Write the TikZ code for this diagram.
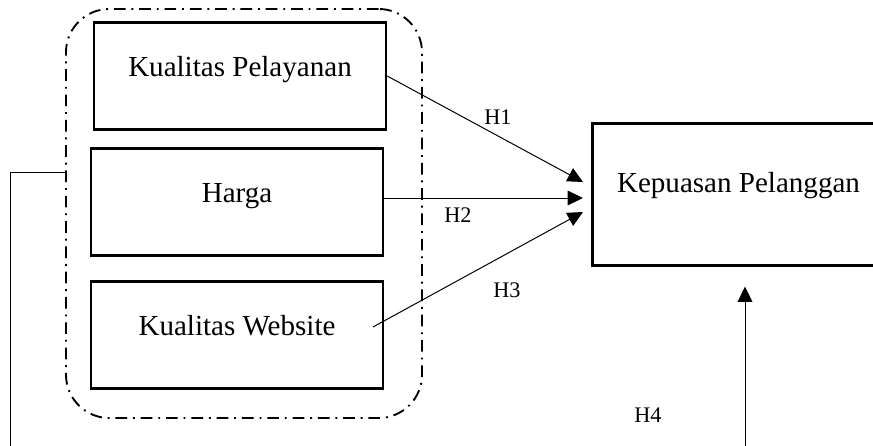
\documentclass[tikz,border=0pt]{standalone}
\usepackage{fontspec}
\setmainfont{Liberation Serif}
\usetikzlibrary{arrows.meta, positioning, calc}

\begin{document}
\begin{tikzpicture}[
    x=0.03cm, y=-0.03cm,
    >={Triangle[length=0.46cm, width=0.44cm]},
    varbox/.style={draw, line width=2pt, inner sep=0pt, anchor=base,
      minimum width=8.76cm, text height=1.6cm, text depth=1.6cm,
      font=\fontsize{24.8}{30}\selectfont},
    grpbox/.style={draw, line width=1.6pt, rounded corners=1.3cm,
      dash pattern=on 10pt off 5pt on 1.6pt off 5pt,
      minimum width=10.68cm, minimum height=12.27cm},
    hyp/.style={->, line width=0.85pt},
    link/.style={line width=0.85pt},
    hlabel/.style={font=\fontsize{19}{22}\selectfont},
  ]

  % ===== Frame =====
  \clip (0,0) rectangle (873,445);

  % ===== Independent variables =====
  \node[grpbox] (grp) at (244,213.5) {};
  \node[varbox] (kp) at (240,76) {Kualitas Pelayanan};
  \node[varbox] (harga) at (237,202) {Harga};
  \node[varbox] (kw) at (237,335) {Kualitas Website};

  % ===== Dependent variable =====
  \node[varbox, text height=2.06cm, text depth=2.2cm] (kep) at (738.5,192)
    {Kepuasan Pelanggan};

  % ===== Partial hypotheses =====
  \coordinate (t1) at (583,182);
  \coordinate (t2) at (583,198);
  \coordinate (t3) at (583,212);
  \coordinate (s3) at (373,327);
  \draw[hyp] (kp.east) -- (t1);
  \draw[hyp] (harga.east |- t2) -- (t2);
  \draw[hyp] (s3) -- (t3);
  \node[hlabel] (h1) at (498,117) {H1};
  \node[hlabel] (h2) at (458,215) {H2};
  \node[hlabel] (h3) at (507,290) {H3};

  % ===== Simultaneous hypothesis =====
  \coordinate (lc) at (10,172);
  \coordinate (lb) at (10,450);
  \coordinate (b4) at (745,450);
  \draw[link] (grp.west |- lc) -- (lc) -- (lb);
  \draw[hyp, shorten >=0.6cm] (b4) -- (kep.south -| b4);
  \node[hlabel] (h4) at (648,415) {H4};

\end{tikzpicture}
\end{document}
